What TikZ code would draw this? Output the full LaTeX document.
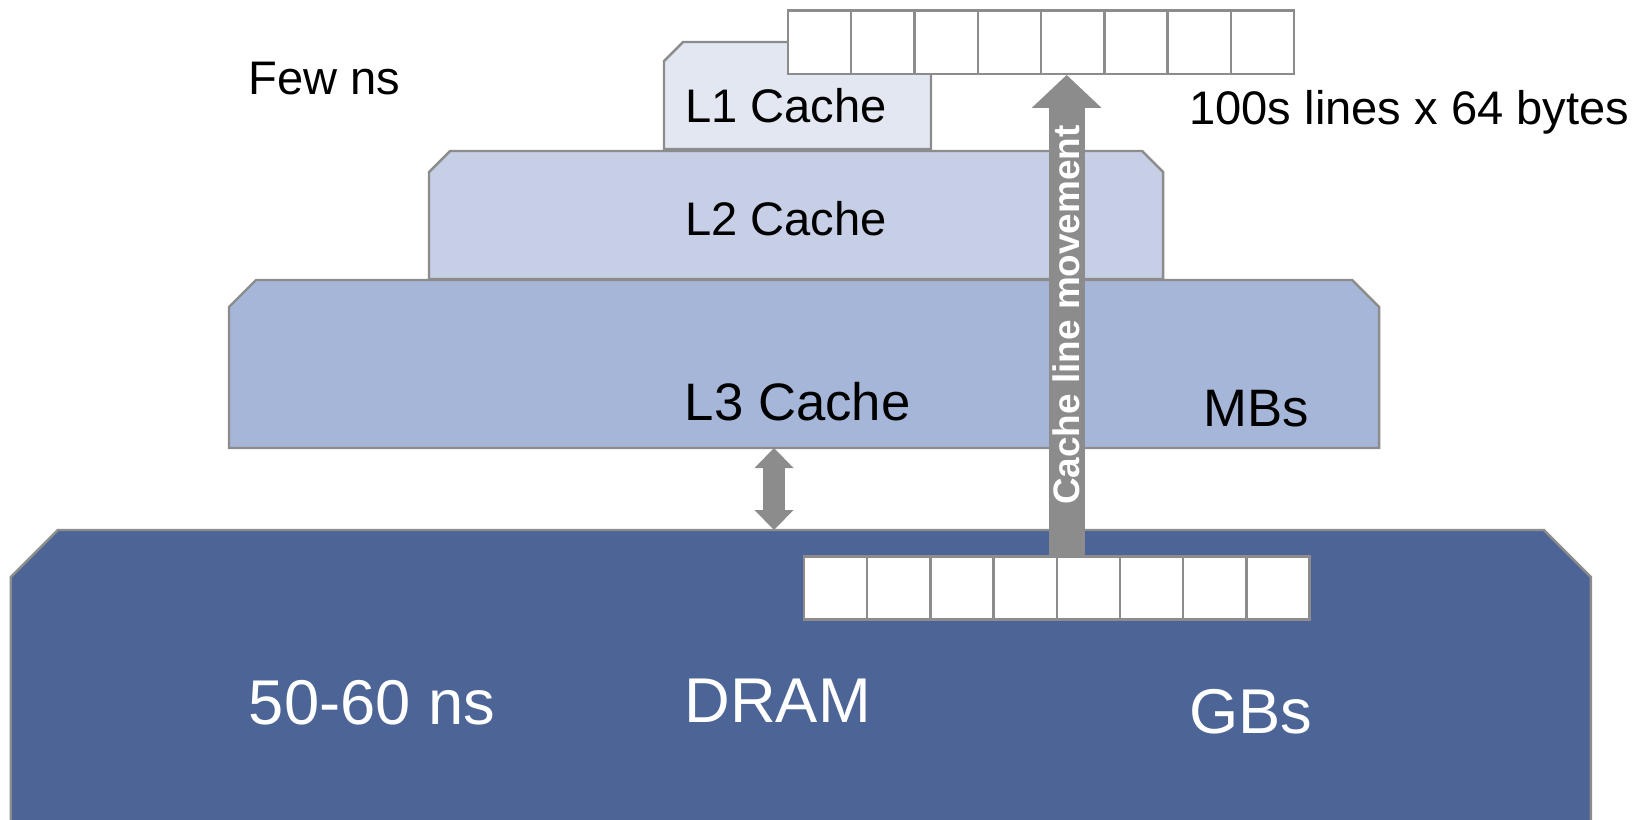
\documentclass[tikz,border=0pt]{standalone}
\usepackage{fontspec}
\setmainfont{Liberation Sans}
\usetikzlibrary{arrows.meta,calc}
\definecolor{lone}{HTML}{E3E7F2}
\definecolor{ltwo}{HTML}{C7CFE6}
\definecolor{lthree}{HTML}{A6B6D8}
\definecolor{dramblue}{HTML}{4D6596}
\definecolor{edgegray}{HTML}{8C8C8C}
\newcommand{\levelshape}[3]{%
  \draw[cacheedge,fill=#2] (#1.south west) -- ($(#1.north west)+(0,-#3)$) -- ($(#1.north west)+(#3,0)$)
    -- ($(#1.north east)+(-#3,0)$) -- ($(#1.north east)+(0,-#3)$) -- (#1.south east) -- cycle;}
\tikzset{
  cachebox/.style={rectangle,inner sep=0pt,outer sep=0pt},
  cacheedge/.style={draw=edgegray,line width=0.7pt,line join=miter},
  cell/.style={draw=edgegray,fill=white,line width=0.7pt,inner sep=0pt,minimum width=0.6325cm,minimum height=0.632cm},
  txt/.style={font=\fontsize{13.4}{16}\selectfont,text=black},
  bigtxt/.style={font=\fontsize{15}{18}\selectfont,text=black},
  dramtxt/.style={font=\fontsize{18}{21}\selectfont,text=white},
  movetxt/.style={font=\bfseries\fontsize{10.5}{12}\selectfont,text=white},
  movearrow/.style={draw=edgegray,line width=0.36cm,-{Triangle[length=0.33cm,width=0.70cm,line width=0pt]}},
  dblarrow/.style={draw=edgegray,line width=0.22cm,{Triangle[length=0.2cm,width=0.39cm,line width=0pt]}-{Triangle[length=0.2cm,width=0.39cm,line width=0pt]}}
}
\begin{document}
\begin{tikzpicture}[x=1cm,y=1cm]
\useasboundingbox (0,0) rectangle (16.52,8.19);
\clip (0,0) rectangle (16.52,8.19);
% cache levels
\node[cachebox,minimum width=2.67cm,minimum height=1.07cm] (L1) at (7.975,7.235) {};
\levelshape{L1}{lone}{0.19}
\foreach \i in {1,...,8}
  \node[cell] (top\i) at ({7.88+0.6325*(\i-0.5)},7.7685) {};
\node[cachebox,minimum width=7.34cm,minimum height=1.28cm] (L2) at (7.96,6.04) {};
\levelshape{L2}{ltwo}{0.21}
\node[cachebox,minimum width=11.5cm,minimum height=1.68cm] (L3) at (8.04,4.55) {};
\levelshape{L3}{lthree}{0.27}
\node[cachebox,minimum width=15.8cm,minimum height=3.2cm] (dram) at (8.0075,1.29) {};
\levelshape{dram}{dramblue}{0.47}
\foreach \i in {1,...,8}
  \node[cell] (bot\i) at ({8.04+0.632*(\i-0.5)},2.311) {};
% arrows
\coordinate (dtop) at ([xshift=-0.30cm]L3.south);
\coordinate (dbot) at (dtop |- dram.north);
\draw[dblarrow] (dtop) -- (dbot);
\coordinate (mtop) at ([xshift=-0.06cm]top5.south);
\coordinate (mbot) at (mtop |- bot5.north);
\draw[movearrow] (mbot) -- (mtop) node[midway,rotate=90,movetxt] {Cache line movement};
% texts
\node[txt] (fewns) at (3.245,7.40) {Few ns};
\node[txt] (l1txt) at (7.86,7.136) {L1 Cache};
\node[txt,anchor=west] (lines) at (11.77,7.063) {100s lines x 64 bytes};
\node[txt] (l2txt) at (7.86,6.00) {L2 Cache};
\node[bigtxt] (l3txt) at (7.976,4.176) {L3 Cache};
\node[bigtxt] (mbs) at (12.56,4.10) {MBs};
\node[dramtxt] (slow) at (3.72,1.163) {50-60 ns};
\node[dramtxt] (dramtxt) at (7.776,1.184) {DRAM};
\node[dramtxt] (gbs) at (12.506,1.07) {GBs};
\end{tikzpicture}
\end{document}
